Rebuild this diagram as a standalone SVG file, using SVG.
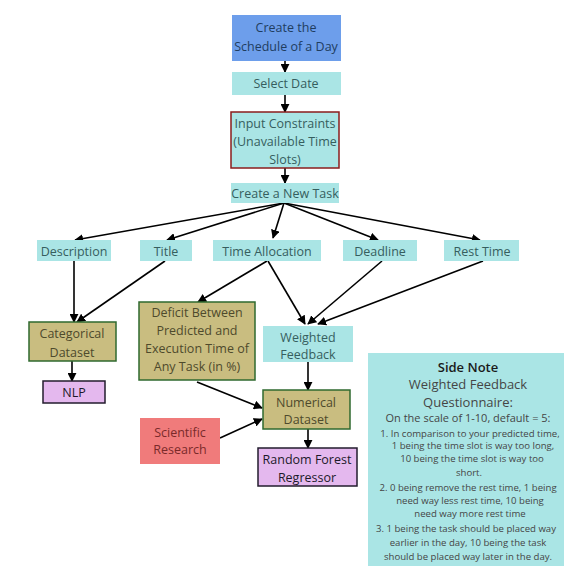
<svg xmlns="http://www.w3.org/2000/svg" width="573" height="573" viewBox="0 0 573 573">
<defs>
<marker id="ah" viewBox="0 0 10 10" refX="9" refY="5" markerWidth="9" markerHeight="9" markerUnits="userSpaceOnUse" orient="auto">
<path d="M0,0 L10,5 L0,10 z" fill="#000"/>
</marker>
<style>
text{font-family:"Open Sans","Noto Sans","Liberation Sans",sans-serif;text-anchor:middle;dominant-baseline:central}
.t{font-size:12.5px}
.blue{fill:#6d9eeb}
.cyan{fill:#aae5e5}
.olive{fill:#c9bd80;stroke:#2f6a2f;stroke-width:1.5}
.lav{fill:#e4b8ee;stroke:#231c2e;stroke-width:1.5}
.sal{fill:#f07b7b}
.red{fill:#aae5e5;stroke:#8a1c1c;stroke-width:1.5}
.tb{fill:#1f3d5f}
.tc{fill:#365e5e}
.to{fill:#4e4a2c}
.tl{fill:#1c1a2a}
.ts{fill:#7a2a2a}
.conn line,.conn path{stroke:#000;stroke-width:1.6;fill:none;marker-end:url(#ah)}
.sn{fill:#454545}
</style>
</defs>
<rect width="573" height="573" fill="#fff"/>
<g class="conn">
<line x1="285" y1="61" x2="285" y2="72"/>
<line x1="285" y1="95" x2="285" y2="112"/>
<line x1="285" y1="168" x2="285" y2="183"/>
<line x1="284" y1="203" x2="75" y2="240"/>
<line x1="284" y1="203" x2="167" y2="240"/>
<line x1="284" y1="203" x2="273" y2="238"/>
<line x1="284" y1="203" x2="378" y2="240"/>
<line x1="284" y1="203" x2="480" y2="240"/>
<line x1="74" y1="261" x2="74" y2="322"/>
<line x1="165" y1="261" x2="77" y2="322"/>
<line x1="267" y1="261" x2="198" y2="302"/>
<line x1="268" y1="261" x2="305" y2="324"/>
<line x1="382" y1="261" x2="308" y2="324"/>
<line x1="483" y1="261" x2="318" y2="324"/>
<line x1="72" y1="361" x2="72" y2="381"/>
<line x1="308" y1="362" x2="308" y2="390"/>
<line x1="197" y1="382" x2="262" y2="408"/>
<line x1="220" y1="438" x2="262" y2="419"/>
<line x1="308" y1="429" x2="308" y2="448"/>
</g>
<g id="create-schedule">
<rect class="blue" x="232" y="15" width="109" height="46"/>
<text class="t tb" x="286" y="27">Create the</text>
<text class="t tb" x="286" y="46">Schedule of a Day</text>
</g>
<g id="select-date">
<rect class="cyan" x="232" y="72" width="109" height="23"/>
<text class="t tc" x="286" y="83">Select Date</text>
</g>
<g id="input-constraints">
<rect class="red" x="231" y="112" width="108" height="56"/>
<text class="t tc" x="285" y="123">Input Constraints</text>
<text class="t tc" x="285" y="141">(Unavailable Time</text>
<text class="t tc" x="285" y="159">Slots)</text>
</g>
<g id="create-task">
<rect class="cyan" x="231" y="183" width="108" height="20"/>
<text class="t tc" x="285" y="193">Create a New Task</text>
</g>
<g id="description">
<rect class="cyan" x="37" y="240" width="74" height="21"/>
<text class="t tc" x="74" y="251">Description</text>
</g>
<g id="title">
<rect class="cyan" x="140" y="240" width="52" height="21"/>
<text class="t tc" x="166" y="251">Title</text>
</g>
<g id="time-allocation">
<rect class="cyan" x="213" y="240" width="108" height="21"/>
<text class="t tc" x="267" y="251">Time Allocation</text>
</g>
<g id="deadline">
<rect class="cyan" x="343" y="240" width="74" height="21"/>
<text class="t tc" x="380" y="251">Deadline</text>
</g>
<g id="rest-time">
<rect class="cyan" x="444" y="240" width="75" height="21"/>
<text class="t tc" x="482" y="251">Rest Time</text>
</g>
<g id="categorical-dataset">
<rect class="olive" x="29" y="322" width="87" height="39"/>
<text class="t to" x="72" y="333">Categorical</text>
<text class="t to" x="72" y="352">Dataset</text>
</g>
<g id="nlp">
<rect class="lav" x="43" y="381" width="62" height="22"/>
<text class="t tl" x="74" y="392">NLP</text>
</g>
<g id="deficit">
<rect class="olive" x="139" y="302" width="116" height="78"/>
<text class="t to" x="197" y="312">Deficit Between</text>
<text class="t to" x="197" y="330">Predicted and</text>
<text class="t to" x="197" y="348">Execution Time of</text>
<text class="t to" x="197" y="366">Any Task (in %)</text>
</g>
<g id="weighted-feedback">
<rect class="cyan" x="263" y="326" width="90" height="36"/>
<text class="t tc" x="308" y="337">Weighted</text>
<text class="t tc" x="308" y="354">Feedback</text>
</g>
<g id="numerical-dataset">
<rect class="olive" x="263" y="390" width="87" height="39"/>
<text class="t to" x="306" y="402">Numerical</text>
<text class="t to" x="306" y="419">Dataset</text>
</g>
<g id="scientific-research">
<rect class="sal" x="140" y="418" width="80" height="46"/>
<text class="t ts" x="180" y="432">Scientific</text>
<text class="t ts" x="180" y="449">Research</text>
</g>
<g id="random-forest">
<rect class="lav" x="258" y="448" width="99" height="38"/>
<text class="t tl" x="307" y="459">Random Forest</text>
<text class="t tl" x="307" y="477">Regressor</text>
</g>
<g id="side-note">
<rect class="cyan" x="368" y="353" width="196" height="213"/>
<text x="468" y="367" style="font-size:13px;font-weight:600;fill:#1a1a1a">Side Note</text>
<text class="sn" x="468" y="384" style="font-size:13px">Weighted Feedback</text>
<text class="sn" x="468" y="402" style="font-size:13px">Questionnaire:</text>
<text class="sn" x="468" y="417" style="font-size:11px">On the scale of 1-10, default = 5:</text>
<g style="font-size:9.6px">
<text class="sn" x="470" y="433">1. In comparison to your predicted time,</text>
<text class="sn" x="473" y="445">1 being the time slot is way too long,</text>
<text class="sn" x="472" y="458">10 being the time slot is way too</text>
<text class="sn" x="469" y="472">short.</text>
<text class="sn" x="468" y="487">2. 0 being remove the rest time, 1 being</text>
<text class="sn" x="470" y="500">need way less rest time, 10 being</text>
<text class="sn" x="470" y="513">need way more rest time</text>
<text class="sn" x="466" y="528">3. 1 being the task should be placed way</text>
<text class="sn" x="468" y="542">earlier in the day, 10 being the task</text>
<text class="sn" x="468" y="556">should be placed way later in the day.</text>
</g>
</g>
</svg>
